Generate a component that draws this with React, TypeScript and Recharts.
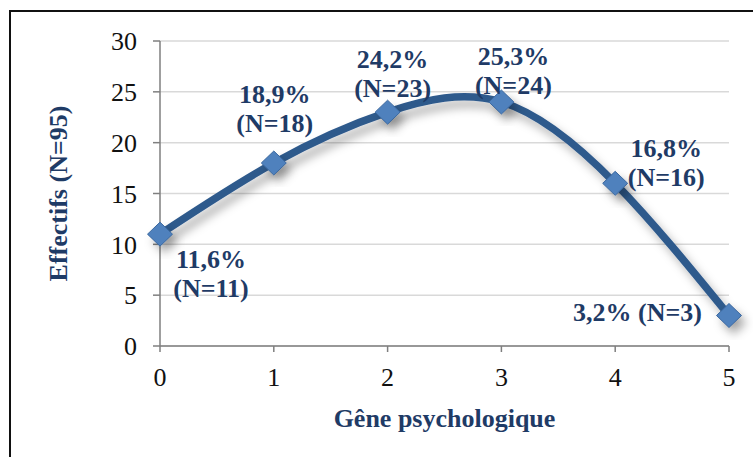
import { LineChart, Line, XAxis, YAxis, CartesianGrid } from "recharts";

const categories = [0, 1, 2, 3, 4, 5];
const counts = [11, 18, 23, 24, 16, 3];
const percents = ["11,6%", "18,9%", "24,2%", "25,3%", "16,8%", "3,2%"];
const yTicks = [0, 5, 10, 15, 20, 25, 30];

const data = categories.map((c, i) => ({ x: c, n: counts[i], pct: percents[i] }));

// label placement relative to each point: [dx, baseline dy of first line, single line?]
const PLACE: [number, number, boolean][] = [
  [51, 34, false],
  [1, -60, false],
  [5, -44, false],
  [12, -37, false],
  [51, -26, false],
  [-27, 5, true],
];

const NAVY = "#1F3B66";
const FONT = "Liberation Serif";
const LABEL_STYLE = { fontFamily: FONT, fontWeight: 700, fontSize: 26, fill: NAVY };

function PointLabel(props: any) {
  const { x, y, index } = props;
  const d = data[index];
  const [dx, dy, inline] = PLACE[index];
  if (inline) {
    return (
      <text x={x + dx} y={y + dy} textAnchor="end" style={LABEL_STYLE}>
        {`${d.pct} (N=${d.n})`}
      </text>
    );
  }
  return (
    <g>
      <text x={x + dx} y={y + dy} textAnchor="middle" style={LABEL_STYLE}>
        {d.pct}
      </text>
      <text x={x + dx} y={y + dy + 29} textAnchor="middle" style={LABEL_STYLE}>
        {`(N=${d.n})`}
      </text>
    </g>
  );
}

function Diamond(props: any) {
  const { cx, cy } = props;
  if (cx == null || cy == null) return null;
  const rx = 12.5;
  const ry = 12;
  return (
    <path
      d={`M${cx},${cy - ry} L${cx + rx},${cy} L${cx},${cy + ry} L${cx - rx},${cy} Z`}
      fill="#4F81BD"
      stroke="#3A679E"
      strokeWidth={1}
      filter="url(#shadow)"
    />
  );
}

function YTitle(props: any) {
  const vb = props.viewBox || {};
  const cx = 58;
  const cy = vb.y + vb.height / 2;
  return (
    <text
      x={cx}
      y={cy}
      transform={`rotate(-90 ${cx} ${cy})`}
      textAnchor="middle"
      dominantBaseline="central"
      style={LABEL_STYLE}
    >
      Effectifs (N=95)
    </text>
  );
}

const TICK = { fontFamily: FONT, fontSize: 26, fill: "#111" };

export default function App() {
  return (
    <div style={{ position: "absolute", left: 0, top: 0, width: 753, height: 457, overflow: "hidden", background: "#fff", fontFamily: FONT }}>
      <div
        style={{
          position: "absolute",
          left: 9,
          top: 10,
          width: 780,
          height: 480,
          border: "2px solid #111",
          boxSizing: "border-box",
        }}
      />
      <div style={{ position: "absolute", left: 0, top: 0 }}>
        <LineChart width={753} height={457} data={data} margin={{ top: 41, right: 24, bottom: 30, left: 50 }}>
          <defs>
            <filter id="shadow" x="-50%" y="-50%" width="200%" height="200%">
              <feDropShadow dx="5" dy="7" stdDeviation="5" floodColor="#000" floodOpacity="0.3" />
            </filter>
          </defs>
          <CartesianGrid vertical={false} stroke="#D9D9D9" strokeWidth={1.5} />
          <XAxis
            dataKey="x"
            type="number"
            domain={[0, 5]}
            ticks={categories}
            height={81}
            tick={TICK}
            tickSize={6}
            tickMargin={16}
            stroke="#7F7F7F"
            strokeWidth={1.5}
            label={{
              value: "Gêne psychologique",
              position: "insideBottom",
              offset: 0,
              style: LABEL_STYLE,
            }}
          />
          <YAxis
            type="number"
            domain={[0, 30]}
            ticks={yTicks}
            width={110}
            tick={TICK}
            tickSize={7}
            tickMargin={16}
            stroke="#7F7F7F"
            strokeWidth={1.5}
            label={<YTitle />}
          />
          <Line
            type="natural"
            dataKey="n"
            stroke="#2F5A8C"
            strokeWidth={7.5}
            dot={<Diamond />}
            activeDot={false}
            filter="url(#shadow)"
            isAnimationActive={false}
            label={<PointLabel />}
          />
        </LineChart>
      </div>
    </div>
  );
}
